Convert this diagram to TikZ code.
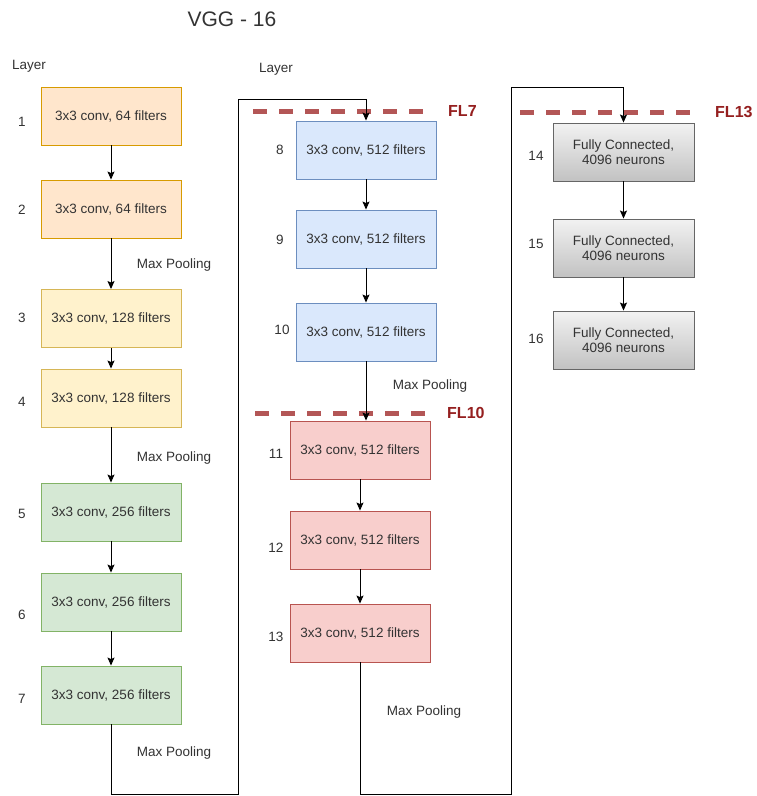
\documentclass[tikz,border=0pt]{standalone}
\usepackage{fontspec}
\setmainfont{Liberation Sans}
\usetikzlibrary{arrows.meta}
\definecolor{orF}{HTML}{FFE6CC}\definecolor{orD}{HTML}{D79B00}
\definecolor{ylF}{HTML}{FFF2CC}\definecolor{ylD}{HTML}{D6B656}
\definecolor{grF}{HTML}{D5E8D4}\definecolor{grD}{HTML}{82B366}
\definecolor{blF}{HTML}{DAE8FC}\definecolor{blD}{HTML}{6C8EBF}
\definecolor{rdF}{HTML}{F8CECC}\definecolor{rdD}{HTML}{B85450}
\definecolor{gyT}{HTML}{F2F2F2}\definecolor{gyB}{HTML}{C2C2C2}\definecolor{gyD}{HTML}{666666}
\definecolor{flLine}{HTML}{B35656}
\definecolor{flText}{HTML}{951F1F}
\definecolor{txt}{HTML}{333333}
\begin{document}
\begin{tikzpicture}[x=1pt,y=-1pt,
  box/.style={draw, line width=0.9pt, minimum width=140pt, minimum height=58pt, inner sep=0pt,
    align=center, font=\fontsize{13.5}{15}\selectfont, text=txt},
  orbox/.style={box, fill=orF, draw=orD},
  ylbox/.style={box, fill=ylF, draw=ylD},
  grbox/.style={box, fill=grF, draw=grD},
  blbox/.style={box, fill=blF, draw=blD},
  rdbox/.style={box, fill=rdF, draw=rdD},
  gybox/.style={box, top color=gyT, bottom color=gyB, draw=gyD, minimum width=141pt},
  lbl/.style={font=\fontsize{13.5}{16}\selectfont, text=txt, inner sep=0pt},
  arr/.style={line width=1pt, -{Stealth[length=8pt,width=7pt,inset=1.5pt]}},
  ln/.style={line width=1pt},
  fl/.style={line width=5pt, draw=flLine, dash pattern=on 14pt off 12pt},
  fltxt/.style={font=\fontsize{16}{18}\selectfont\bfseries, text=flText, anchor=west, inner sep=0pt}
]
\fill[white] (0,0) rectangle (756,796);
\useasboundingbox (0,0) rectangle (756,796);

% title and headers
\node[lbl, font=\fontsize{21}{24}\selectfont] (title) at (232,19) {VGG - 16};
\node[lbl] (layerA) at (29,66) {Layer};
\node[lbl] (layerB) at (276,69) {Layer};

% dashed feature-layer lines
\coordinate (f7a) at (253,111); \coordinate (f7b) at (435,111);
\coordinate (f10a) at (255,413); \coordinate (f10b) at (435,413);
\coordinate (f13a) at (520,112); \coordinate (f13b) at (701,112);
\draw[fl] (f7a) -- (f7b);
\draw[fl] (f10a) -- (f10b);
\draw[fl] (f13a) -- (f13b);
\node[fltxt] (fl7) at (448,111) {FL7};
\node[fltxt] (fl10) at (447,413) {FL10};
\node[fltxt] (fl13) at (715,112) {FL13};

% column 1
\node[orbox] (b1) at (111,116) {3x3 conv, 64 filters};
\node[orbox] (b2) at (111,209) {3x3 conv, 64 filters};
\node[ylbox] (b3) at (111,318.5) {3x3 conv, 128 filters};
\node[ylbox] (b4) at (111,398) {3x3 conv, 128 filters};
\node[grbox] (b5) at (111,512) {3x3 conv, 256 filters};
\node[grbox] (b6) at (111,602) {3x3 conv, 256 filters};
\node[grbox] (b7) at (111,695) {3x3 conv, 256 filters};

% column 2
\node[blbox] (b8) at (366,150) {3x3 conv, 512 filters};
\node[blbox] (b9) at (366,239) {3x3 conv, 512 filters};
\node[blbox] (b10) at (366,332) {3x3 conv, 512 filters};
\node[rdbox] (b11) at (360,450) {3x3 conv, 512 filters};
\node[rdbox] (b12) at (360,540) {3x3 conv, 512 filters};
\node[rdbox] (b13) at (360,633) {3x3 conv, 512 filters};

% column 3
\node[gybox] (b14) at (623.5,152) {Fully Connected,\\4096 neurons};
\node[gybox] (b15) at (623.5,248) {Fully Connected,\\4096 neurons};
\node[gybox] (b16) at (623.5,340) {Fully Connected,\\4096 neurons};

% layer numbers
\node[lbl] (n1) at (22,122) {1};
\node[lbl] (n2) at (22,210) {2};
\node[lbl] (n3) at (22,318) {3};
\node[lbl] (n4) at (22,402) {4};
\node[lbl] (n5) at (22,514) {5};
\node[lbl] (n6) at (22,615) {6};
\node[lbl] (n7) at (22,699) {7};
\node[lbl] (n8) at (280,150) {8};
\node[lbl] (n9) at (280,240) {9};
\node[lbl] (n10) at (282,330) {10};
\node[lbl] (n11) at (276,454) {11};
\node[lbl] (n12) at (276,548) {12};
\node[lbl] (n13) at (276,637) {13};
\node[lbl] (n14) at (536,156) {14};
\node[lbl] (n15) at (536,244) {15};
\node[lbl] (n16) at (536,339) {16};

% max pooling labels
\node[lbl] (mp1) at (174,265) {Max Pooling};
\node[lbl] (mp2) at (174,458) {Max Pooling};
\node[lbl] (mp3) at (174,753) {Max Pooling};
\node[lbl] (mp4) at (430,386) {Max Pooling};
\node[lbl] (mp5) at (424,712) {Max Pooling};

% arrows column 1
\draw[arr] (b1) -- (b2);
\draw[arr] (b2) -- (b3);
\draw[arr] (b3) -- (b4);
\draw[arr] (b4) -- (b5);
\draw[arr] (b5) -- (b6);
\draw[arr] (b6) -- (b7);

% loop to column 2
\coordinate (l1a) at (238.5,794);
\coordinate (l1b) at (238.5,99);
\draw[arr] (b7.south) |- (l1a) -- (l1b) -| (b8.north);

% arrows column 2
\draw[arr] (b8) -- (b9);
\draw[arr] (b9) -- (b10);
\draw[arr] (b10.south) -- (b10.south |- b11.north);
\draw[arr] (b11) -- (b12);
\draw[arr] (b12) -- (b13);

% loop to column 3
\coordinate (l2a) at (511.5,794);
\coordinate (l2b) at (511.5,87);
\draw[arr] (b13.south) |- (l2a) -- (l2b) -| (b14.north);

% arrows column 3
\draw[arr] (b14) -- (b15);
\draw[arr] (b15) -- (b16);
\end{tikzpicture}
\end{document}
